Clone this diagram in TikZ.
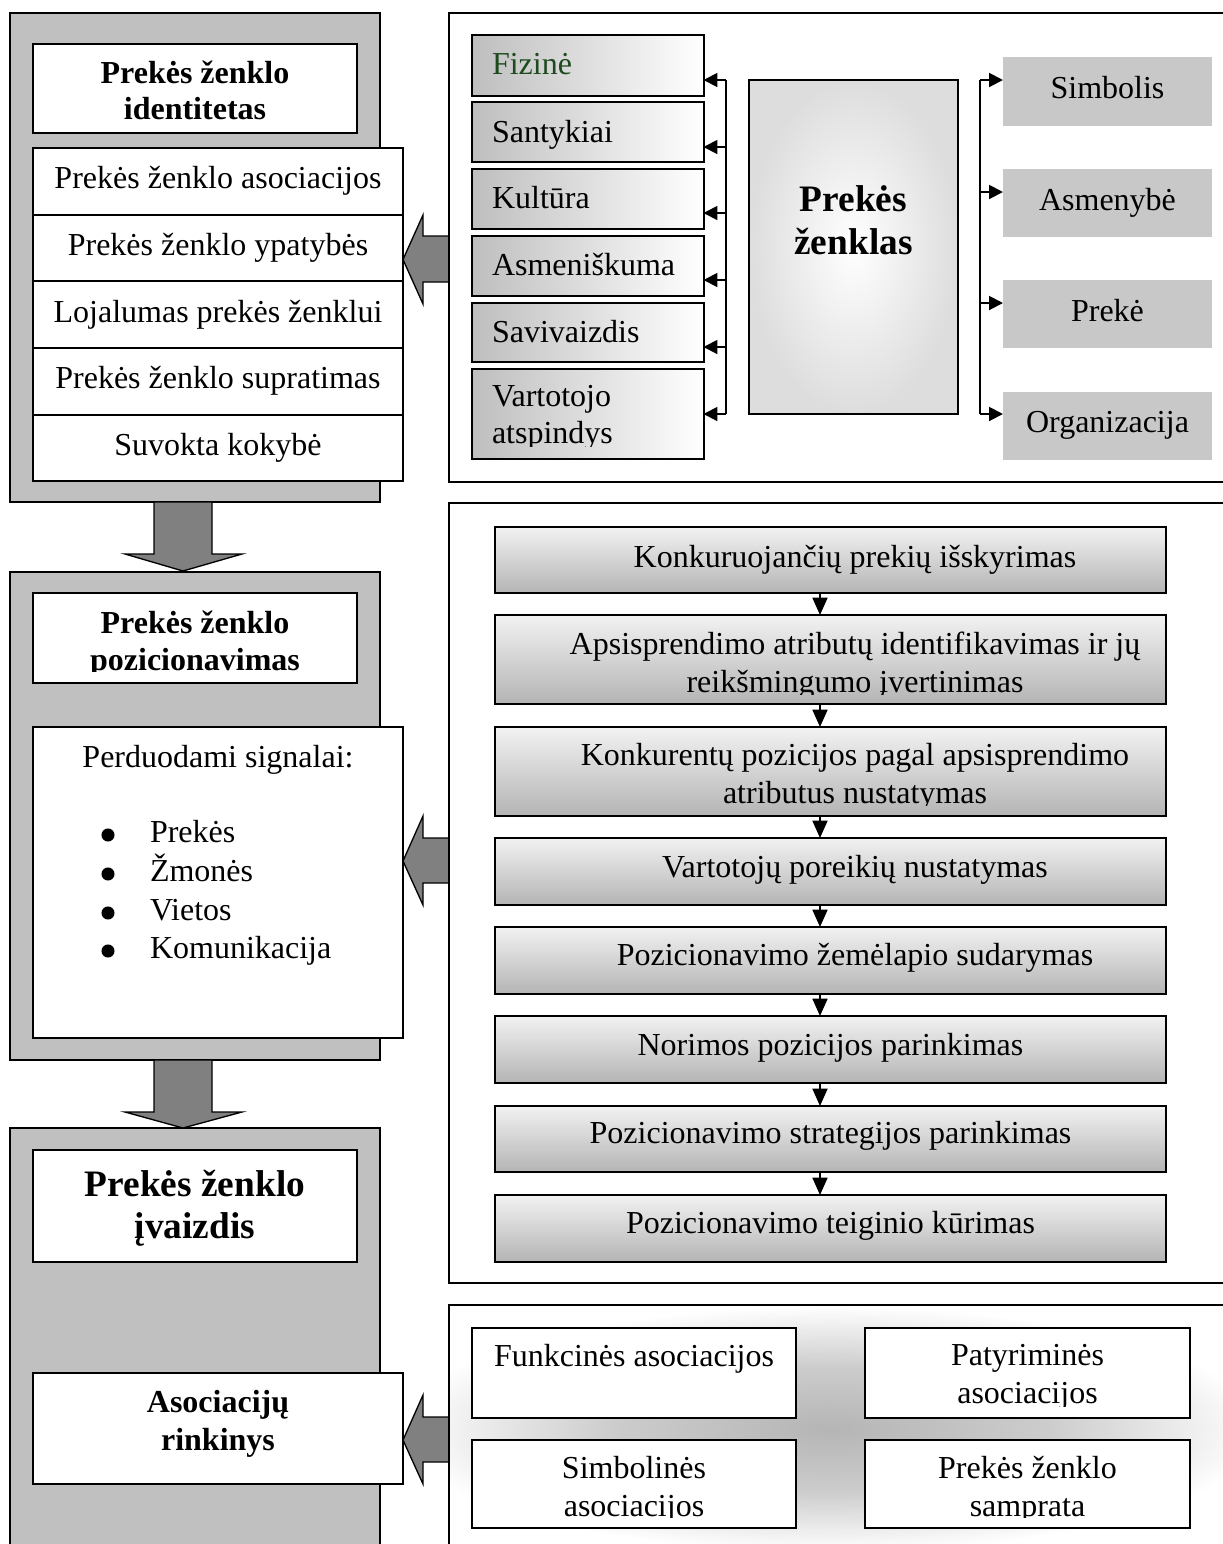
\documentclass[tikz,border=0pt]{standalone}
\usepackage{fontspec}
\setmainfont{Liberation Serif}
\usetikzlibrary{arrows.meta,fit}

\definecolor{framegray}{HTML}{C0C0C0}
\definecolor{arrowgray}{HTML}{808080}
\definecolor{aspectgray}{HTML}{C8C8C8}
\definecolor{fizgreen}{HTML}{1E4B1E}
\definecolor{stepbottom}{HTML}{B4B4B4}
\definecolor{steptop}{HTML}{F2F2F2}
\definecolor{facetgray}{HTML}{BEBEBE}
\definecolor{coregray}{HTML}{DDDDDD}

% soft glow behind the association boxes (the path box spans -25bp..25bp)
\pgfdeclareradialshading{glow}{\pgfpointorigin}{color(0bp)=(gray!58); color(9bp)=(gray!40); color(18bp)=(white); color(50bp)=(white)}

\tikzset{
  every node/.style={inner sep=0pt, outer sep=0pt},
  frame/.style={draw=black, line width=0.8pt, fill=framegray},
  panel/.style={draw=black, line width=0.9pt},
  plainbox/.style={draw=black, line width=0.75pt, fill=white},
  facet/.style={draw=black, line width=0.75pt, left color=facetgray, right color=white},
  core/.style={draw=black, line width=0.6pt, inner color=white, outer color=coregray},
  aspect/.style={fill=aspectgray},
  stepbox/.style={draw=black, line width=0.75pt, top color=steptop, bottom color=stepbottom},
  blockarrow/.style={draw=black, line width=0.5pt, fill=arrowgray},
  trunk/.style={line width=0.75pt},
  branch/.style={line width=0.75pt, -{Triangle[length=5.2pt,width=5.2pt]}},
  flow/.style={line width=0.75pt, -{Triangle[length=6.5pt,width=5.6pt]}},
  txt/.style={anchor=base, font=\fontsize{12}{13.9}\selectfont, align=center},
  txtl/.style={anchor=base west, font=\fontsize{12}{13.6}\selectfont, align=left},
  head/.style={anchor=base, font=\fontsize{12}{13.6}\selectfont\bfseries, align=center},
  bighead/.style={anchor=base, font=\fontsize{14}{15.6}\selectfont\bfseries, align=center},
}

\begin{document}
\begin{tikzpicture}[x=0.375pt,y=-0.375pt]
\useasboundingbox (0,0) rectangle (1223,1544);

% ---------- left column: three grey frames ----------
\node[frame, fit={(10,13)(380,502)}] (identFrame) {};
\node[frame, fit={(10,572)(380,1060)}] (posFrame) {};
\node[frame, fit={(10,1128)(380,1560)}] (imgFrame) {};

% down arrows between the frames
\draw[blockarrow] (154,502) -- (212,502) -- (212,554) -- (242,554) -- (183,571) -- (125,554) -- (154,554) -- cycle;
\draw[blockarrow] (154,1060) -- (212,1060) -- (212,1112) -- (242,1112) -- (183,1128) -- (125,1112) -- (154,1112) -- cycle;

% identity frame (multi-line labels sit on the baseline of their last line)
\node[plainbox, fit={(33,44)(357,133)}] (identTitle) {};
\node[head, font=\fontsize{12}{13.5}\selectfont\bfseries] (identTitleT) at (195,119) {Prekės ženklo\\identitetas};
\node[plainbox, fit={(33,148)(403,215)}] (row1) {};
\node[plainbox, fit={(33,215)(403,281)}] (row2) {};
\node[plainbox, fit={(33,281)(403,348)}] (row3) {};
\node[plainbox, fit={(33,348)(403,415)}] (row4) {};
\node[plainbox, fit={(33,415)(403,481)}] (row5) {};
\node[txt] (row1t) at (218,188) {Prekės ženklo asociacijos};
\node[txt] (row2t) at (218,255) {Prekės ženklo ypatybės};
\node[txt] (row3t) at (218,322) {Lojalumas prekės ženklui};
\node[txt] (row4t) at (218,388) {Prekės ženklo supratimas};
\node[txt] (row5t) at (218,455) {Suvokta kokybė};

% positioning frame
\node[plainbox, fit={(33,593)(357,683)}] (posTitle) {};
\begin{scope}
  \clip (33,593) rectangle (357,671);
  \node[head] (posTitleT) at (195,670) {Prekės ženklo\\pozicionavimas};
\end{scope}
\node[plainbox, fit={(33,727)(403,1038)}] (signals) {};
\node[txt] (signalsT) at (218,767) {Perduodami signalai:};
\fill (108,835) circle [radius=2.45pt];
\fill (108,874) circle [radius=2.45pt];
\fill (108,913) circle [radius=2.45pt];
\fill (108,951) circle [radius=2.45pt];
\node[txtl] (i1) at (150,842) {Prekės};
\node[txtl] (i2) at (150,881) {Žmonės};
\node[txtl] (i3) at (150,920) {Vietos};
\node[txtl] (i4) at (150,958) {Komunikacija};

% image frame
\node[plainbox, fit={(33,1150)(357,1262)}] (imgTitle) {};
\node[bighead] (imgTitleT) at (195,1238) {Prekės ženklo\\įvaizdis};
\node[plainbox, fit={(33,1373)(403,1484)}] (assoc) {};
\node[head, font=\fontsize{12}{13.9}\selectfont\bfseries] (assocT) at (218,1450) {Asociacijų\\rinkinys};

% block arrows from the right panels
\draw[blockarrow] (403,259.5) -- (423,215) -- (423,236) -- (449,236) -- (449,282) -- (423,282) -- (423,304) -- cycle;
\draw[blockarrow] (403,861) -- (423,816) -- (423,838) -- (449,838) -- (449,883) -- (423,883) -- (423,905) -- cycle;
\draw[blockarrow] (403,1440) -- (423,1395) -- (423,1417) -- (449,1417) -- (449,1462) -- (423,1462) -- (423,1484) -- cycle;

% ---------- right panels ----------
\draw[panel] (1240,13) -- (449,13) -- (449,482) -- (1240,482);
\draw[panel] (1240,503) -- (449,503) -- (449,1283) -- (1240,1283);
\draw[panel] (1240,1305) -- (449,1305) -- (449,1560);

% brand facets
\node[facet, fit={(471.5,35)(703.5,96)}] (fiz) {};
\node[facet, fit={(471.5,102)(703.5,162)}] (sant) {};
\node[facet, fit={(471.5,169)(703.5,229)}] (kult) {};
\node[facet, fit={(471.5,236)(703.5,296)}] (asm) {};
\node[facet, fit={(471.5,303)(703.5,362)}] (sav) {};
\node[facet, fit={(471.5,369)(703.5,459)}] (vart) {};
\node[txtl, text=fizgreen] (fizT) at (492,74) {Fizinė};
\node[txtl] (santT) at (492,142) {Santykiai};
\node[txtl] (kultT) at (492,208) {Kultūra};
\node[txtl] (asmT) at (492,275) {Asmeniškuma};
\node[txtl] (savT) at (492,342) {Savivaizdis};
\begin{scope}
  \clip (471.5,369) rectangle (703.5,446);
  \node[txtl] (vartT) at (492,443) {Vartotojo\\atspindys};
\end{scope}

% brand core
\node[core, fit={(749,80)(958,414)}] (core) {};
\node[bighead, font=\fontsize{14}{15.8}\selectfont\bfseries] (coreT) at (853.5,254) {Prekės\\ženklas};

% brand aspects
\node[aspect, fit={(1003,57)(1212,126)}] (simb) {};
\node[aspect, fit={(1003,169)(1212,237)}] (asmb) {};
\node[aspect, fit={(1003,280)(1212,348)}] (prek) {};
\node[aspect, fit={(1003,392)(1212,460)}] (org) {};
\node[txt] (simbT) at (1107.5,98) {Simbolis};
\node[txt] (asmbT) at (1107.5,210) {Asmenybė};
\node[txt] (prekT) at (1107.5,321) {Prekė};
\node[txt] (orgT) at (1107.5,432) {Organizacija};

% left bracket
\coordinate (l1) at (726,80);
\coordinate (l2) at (726,147);
\coordinate (l3) at (726,213);
\coordinate (l4) at (726,280);
\coordinate (l5) at (726,347);
\coordinate (l6) at (726,414);
\draw[trunk] (l1) -- (l6);
\draw[branch] (l1) -- (l1 -| fiz.east);
\draw[branch] (l2) -- (l2 -| sant.east);
\draw[branch] (l3) -- (l3 -| kult.east);
\draw[branch] (l4) -- (l4 -| asm.east);
\draw[branch] (l5) -- (l5 -| sav.east);
\draw[branch] (l6) -- (l6 -| vart.east);

% right bracket
\coordinate (r1) at (980,80);
\coordinate (r2) at (980,192);
\coordinate (r3) at (980,303);
\coordinate (r4) at (980,414);
\draw[trunk] (r1) -- (r4);
\draw[branch] (r1) -- (r1 -| simb.west);
\draw[branch] (r2) -- (r2 -| asmb.west);
\draw[branch] (r3) -- (r3 -| prek.west);
\draw[branch] (r4) -- (r4 -| org.west);

% positioning steps
\node[stepbox, fit={(495,527)(1166,593)}] (s1) {};
\node[stepbox, fit={(495,615)(1166,704)}] (s2) {};
\node[stepbox, fit={(495,727)(1166,816)}] (s3) {};
\node[stepbox, fit={(495,838)(1166,905)}] (s4) {};
\node[stepbox, fit={(495,927)(1166,994)}] (s5) {};
\node[stepbox, fit={(495,1016)(1166,1083)}] (s6) {};
\node[stepbox, fit={(495,1106)(1166,1172)}] (s7) {};
\node[stepbox, fit={(495,1195)(1166,1262)}] (s8) {};
\node[txt] (s1T) at (855,567) {Konkuruojančių prekių išskyrimas};
\begin{scope}
  \clip (495,615) rectangle (1166,694);
  \node[txt] (s2T) at (855,692) {Apsisprendimo atributų identifikavimas ir jų\\reikšmingumo įvertinimas};
\end{scope}
\begin{scope}
  \clip (495,727) rectangle (1166,805);
  \node[txt] (s3T) at (855,803) {Konkurentų pozicijos pagal apsisprendimo\\atributus nustatymas};
\end{scope}
\node[txt] (s4T) at (855,877) {Vartotojų poreikių nustatymas};
\node[txt] (s5T) at (855,965) {Pozicionavimo žemėlapio sudarymas};
\node[txt] (s6T) at (830.5,1055) {Norimos pozicijos parinkimas};
\node[txt] (s7T) at (830.5,1143) {Pozicionavimo strategijos parinkimas};
\node[txt] (s8T) at (830.5,1233) {Pozicionavimo teiginio kūrimas};
\coordinate (fx) at (820,0);
\draw[flow] (s1.south -| fx) -- (s2.north -| fx);
\draw[flow] (s2.south -| fx) -- (s3.north -| fx);
\draw[flow] (s3.south -| fx) -- (s4.north -| fx);
\draw[flow] (s4.south -| fx) -- (s5.north -| fx);
\draw[flow] (s5.south -| fx) -- (s6.north -| fx);
\draw[flow] (s6.south -| fx) -- (s7.north -| fx);
\draw[flow] (s7.south -| fx) -- (s8.north -| fx);

% association types on a soft glow
\begin{scope}
  \clip (450,1306) rectangle (1223,1544);
  \shade[shading=glow] (230,1258) rectangle (1430,1600);
\end{scope}
\node[plainbox, fit={(472,1328)(796,1418)}] (b1) {};
\node[plainbox, fit={(865,1328)(1190,1418)}] (b2) {};
\node[plainbox, fit={(472,1440)(796,1528)}] (b3) {};
\node[plainbox, fit={(865,1440)(1190,1528)}] (b4) {};
\node[txt] (b1T) at (634,1366) {Funkcinės asociacijos};
\begin{scope}
  \clip (865,1328) rectangle (1190,1406);
  \node[txt] (b2T) at (1027.5,1403) {Patyriminės\\asociacijos};
\end{scope}
\begin{scope}
  \clip (472,1440) rectangle (796,1517.5);
  \node[txt] (b3T) at (634,1516) {Simbolinės\\asociacijos};
\end{scope}
\begin{scope}
  \clip (865,1440) rectangle (1190,1517.5);
  \node[txt] (b4T) at (1027.5,1516) {Prekės ženklo\\samprata};
\end{scope}

\end{tikzpicture}
\end{document}
